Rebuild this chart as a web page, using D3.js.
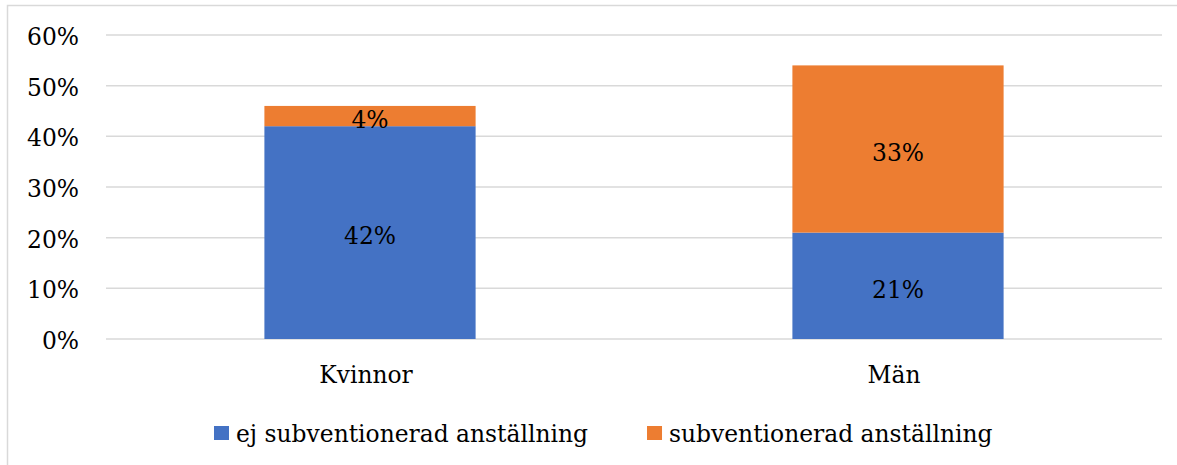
<!DOCTYPE html>
<html>
<head>
<meta charset="utf-8">
<script src="https://cdn.jsdelivr.net/npm/d3@7"></script>
<style>
  html, body { margin: 0; padding: 0; background: #fff; }
  svg text { font-family: "DejaVu Serif", serif; fill: #000; }
</style>
</head>
<body>
<svg id="chart" width="1177" height="465"></svg>
<script>
// data
var categories = ["Kvinnor", "Män"];
var seriesNames = ["ej subventionerad anställning", "subventionerad anställning"];
var ejSubv = [42, 21];
var subv = [4, 33];
var yTicks = [0, 10, 20, 30, 40, 50, 60];
var colors = ["#4472C4", "#ED7D31"];

var svg = d3.select("#chart"),
    width = 1177,
    height = 465,
    fs = 23.4;

var m = { left: 106, right: 15, top: 35, bottom: 126 };

// outer chart frame (runs off the right and bottom edges)
svg.append("rect")
  .attr("x", 7.5).attr("y", 5.5)
  .attr("width", width).attr("height", height)
  .attr("fill", "#fff").attr("stroke", "#d9d9d9").attr("stroke-width", 1.5);

var x = d3.scaleBand().domain(categories)
  .range([m.left, width - m.right])
  .paddingInner(0.6).paddingOuter(0.3);

var y = d3.scaleLinear().domain([0, 60]).range([height - m.bottom, m.top]);

// grid lines
svg.append("g")
  .selectAll("line").data(yTicks).join("line")
  .attr("x1", m.left).attr("x2", width - m.right)
  .attr("y1", function(d) { return y(d); })
  .attr("y2", function(d) { return y(d); })
  .attr("stroke", "#d9d9d9").attr("stroke-width", 1.5);

// y axis labels
var yAxis = d3.axisLeft(y).tickValues(yTicks)
  .tickFormat(function(d) { return d + "%"; })
  .tickSize(0).tickPadding(27);
svg.append("g").attr("transform", "translate(" + m.left + ",0)").call(yAxis)
  .call(function(g) { g.select(".domain").remove(); })
  .selectAll("text")
  .style("font-size", fs + "px").attr("fill", "#000").attr("dy", "0.4em");

// stacked bars
var rows = categories.map(function(c, i) {
  return { cat: c, a: ejSubv[i], b: subv[i] };
});
var stack = d3.stack().keys(["a", "b"])(rows);

var layers = svg.append("g").selectAll("g").data(stack).join("g")
  .attr("fill", function(d, i) { return colors[i]; });

layers.selectAll("rect").data(function(d) { return d; }).join("rect")
  .attr("x", function(d) { return x(d.data.cat); })
  .attr("width", x.bandwidth())
  .attr("y", function(d) { return y(d[1]); })
  .attr("height", function(d) { return y(d[0]) - y(d[1]); });

// value labels
layers.selectAll("text").data(function(d) { return d; }).join("text")
  .attr("x", function(d) { return x(d.data.cat) + x.bandwidth() / 2; })
  .attr("y", function(d) { return y((d[0] + d[1]) / 2); })
  .attr("dy", "0.5em")
  .attr("text-anchor", "middle")
  .style("font-size", fs + "px")
  .text(function(d) { return (d[1] - d[0]) + "%"; });

// category labels
var xAxis = d3.axisBottom(x).tickSize(0).tickPadding(27);
svg.append("g").attr("transform", "translate(0," + y(0) + ")").call(xAxis)
  .call(function(g) { g.select(".domain").remove(); })
  .selectAll("text")
  .style("font-size", fs + "px").attr("fill", "#000").attr("dx", "-4");

// legend
var legend = svg.append("g");
var lx = 214, ly = 442;
seriesNames.forEach(function(name, i) {
  legend.append("rect")
    .attr("x", lx).attr("y", ly - 16)
    .attr("width", 15).attr("height", 14)
    .attr("fill", colors[i]);
  var t = legend.append("text")
    .attr("x", lx + 22).attr("y", ly)
    .style("font-size", fs + "px")
    .text(name);
  lx += 22 + t.node().getComputedTextLength() + 59;
});
</script>
</body>
</html>
